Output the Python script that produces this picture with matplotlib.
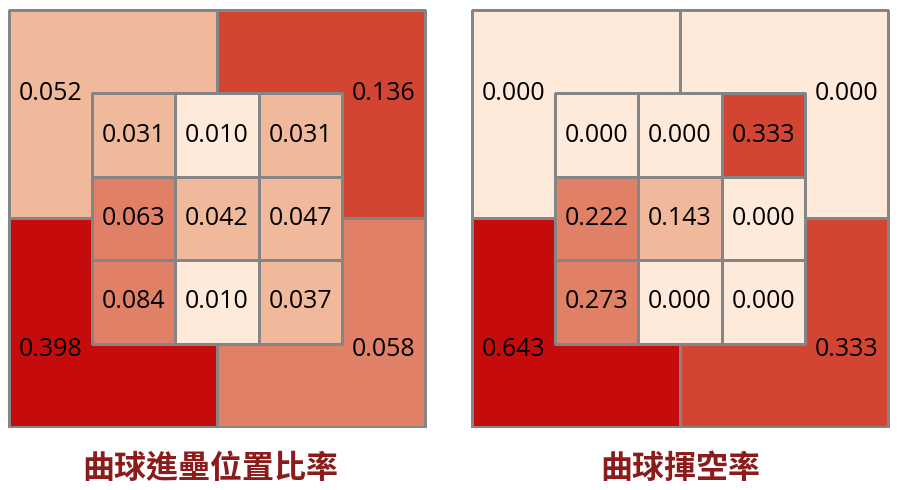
import numpy as np
import matplotlib
matplotlib.use("Agg")
import matplotlib.pyplot as plt
from matplotlib.colors import ListedColormap, BoundaryNorm

plt.rcParams['font.family'] = ['Noto Sans CJK TC', 'DejaVu Sans']

# data: outer quadrants [[top-left, top-right], [bottom-left, bottom-right]], inner 3x3 rows top->bottom
titles = ["曲球進壘位置比率", "曲球揮空率"]
outer_rate = [[0.052, 0.136], [0.398, 0.058]]
inner_rate = [[0.031, 0.010, 0.031],
              [0.063, 0.042, 0.047],
              [0.084, 0.010, 0.037]]
outer_whiff = [[0.000, 0.000], [0.643, 0.333]]
inner_whiff = [[0.000, 0.000, 0.333],
               [0.222, 0.143, 0.000],
               [0.273, 0.000, 0.000]]

# classed colour scale (5 classes), breaks per panel
class_colors = ["#fdeada", "#f0b99b", "#e08066", "#d34532", "#c60b0d"]
breaks_rate = [-0.001, 0.02, 0.055, 0.1, 0.2, 1.0]
breaks_whiff = [-0.001, 0.1, 0.2, 0.3, 0.5, 1.0]

cmap = ListedColormap(class_colors)
edge = "#858585"
title_color = "#8c1c1c"
num_font = ['Open Sans', 'DejaVu Sans']

fig = plt.figure(figsize=(9, 4.9), dpi=100)

def draw_zone(ax, outer, inner, breaks, title, title_x):
    norm = BoundaryNorm(breaks, cmap.N)
    outer = np.array(outer)
    inner = np.array(inner)
    # outer quadrants, y axis inverted so row 0 is top
    ax.pcolormesh([0, 2.5, 5], [0, 2.5, 5], outer, cmap=cmap, norm=norm,
                  edgecolors=edge, linewidth=0.8)
    ax.pcolormesh([1, 2, 3, 4], [1, 2, 3, 4], inner, cmap=cmap, norm=norm,
                  edgecolors=edge, linewidth=0.8, zorder=2)
    ax.plot([0, 5, 5, 0, 0], [0, 0, 5, 5, 0], color=edge, lw=0.8, zorder=3)
    for i in range(2):
        for j in range(2):
            ax.text([0.5, 4.5][j], [1.0, 4.07][i], f"{outer[i, j]:.3f}",
                    ha="center", va="center", fontsize=18, family=num_font, zorder=4)
    for i in range(3):
        for j in range(3):
            ax.text(1.5 + j, 1.5 + i, f"{inner[i, j]:.3f}",
                    ha="center", va="center", fontsize=18, family=num_font, zorder=4)
    ax.set_xlim(-0.02, 5.02)
    ax.set_ylim(5.02, -0.02)
    ax.set_aspect("equal")
    ax.axis("off")
    ax.text(title_x, 5.5, title, ha="center", va="center", fontsize=23,
            fontweight="bold", color=title_color)

ax1 = fig.add_axes([7 / 900, 1 - 429 / 490, 420 / 900, 421 / 490])
ax2 = fig.add_axes([470 / 900, 1 - 429 / 490, 420 / 900, 421 / 490])
draw_zone(ax1, outer_rate, inner_rate, breaks_rate, titles[0], 2.42)
draw_zone(ax2, outer_whiff, inner_whiff, breaks_whiff, titles[1], 2.5)

fig.savefig("out.png", dpi=100)
